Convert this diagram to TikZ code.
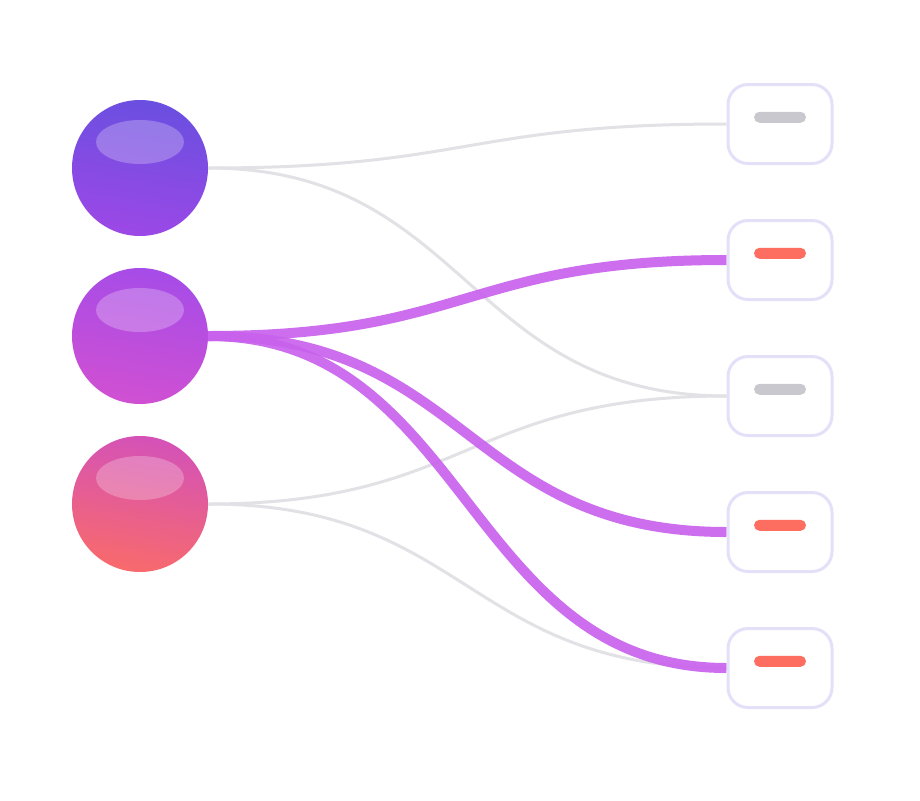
\documentclass[tikz,border=0pt]{standalone}
\usepackage{xcolor}
\usepackage{tikz}
\usetikzlibrary{positioning, shapes.misc, backgrounds}
\definecolor{srcAtop}{HTML}{6A4FE0}
\definecolor{srcAbot}{HTML}{9C48E6}
\definecolor{srcBtop}{HTML}{A64CE8}
\definecolor{srcBbot}{HTML}{D050D2}
\definecolor{srcCtop}{HTML}{D452B8}
\definecolor{srcCbot}{HTML}{F86A6C}
\definecolor{slotrim}{HTML}{E4E0FA}
\definecolor{offbar}{HTML}{C8C8CE}
\definecolor{onbar}{HTML}{FD6E60}
\definecolor{weak}{HTML}{E2E2E6}
\definecolor{strong}{HTML}{C862EC}
\tikzset{
source/.style args={#1, #2}{ circle, minimum size = 136pt, inner sep = 0pt, top color = #1, bottom color = #2, shading angle = -10,
    path picture = { \fill[white, opacity = 0.25] ([yshift = 26pt]path picture bounding box.center) ellipse (44pt and 22pt); } },
slot/.style = { rectangle, draw = slotrim, line width = 3pt, fill = white, minimum width = 104pt, minimum height = 79pt, rounded corners = 20pt },
bar/.style = { rounded rectangle, fill = #1, minimum width = 52pt, minimum height = 11pt, inner sep = 0pt },
weak link/.style = { draw = weak, line width = 3pt },
strong link/.style = { draw = strong, line width = 10pt, opacity = 0.92 },
}

\begin{document}
\begin{tikzpicture}[x = 1pt, y = -1pt]
    \useasboundingbox (0, 0) rectangle (920, 800);
    % sources
    \node[source = {srcAtop, srcAbot}] (s1) at (140, 168) {};
    \node[source = {srcBtop, srcBbot}] (s2) at (140, 336) {};
    \node[source = {srcCtop, srcCbot}] (s3) at (140, 504) {};
    % slots
    \node[slot] (t1) at (780, 124) {};
    \node[slot] (t2) at (780, 260) {};
    \node[slot] (t3) at (780, 396) {};
    \node[slot] (t4) at (780, 532) {};
    \node[slot] (t5) at (780, 668) {};
    \node[bar = offbar, above = 1pt of t1.center] (b1) {};
    \node[bar = onbar, above = 1pt of t2.center] (b2) {};
    \node[bar = offbar, above = 1pt of t3.center] (b3) {};
    \node[bar = onbar, above = 1pt of t4.center] (b4) {};
    \node[bar = onbar, above = 1pt of t5.center] (b5) {};
    % links
    \begin{scope}[on background layer]
    \fill[white] (0, 0) rectangle (920, 800);
    \path[weak link] (s1.east) .. controls +(260, 0) and +(-260, 0) .. (t1.west);
    \path[weak link] (s1.east) .. controls +(260, 0) and +(-260, 0) .. (t3.west);
    \path[weak link] (s3.east) .. controls +(260, 0) and +(-260, 0) .. (t3.west);
    \path[weak link] (s3.east) .. controls +(260, 0) and +(-260, 0) .. (t5.west);
    \path[strong link] (s2.east) .. controls +(260, 0) and +(-260, 0) .. (t2.west);
    \path[strong link] (s2.east) .. controls +(260, 0) and +(-260, 0) .. (t4.west);
    \path[strong link] (s2.east) .. controls +(260, 0) and +(-260, 0) .. (t5.west);
    \end{scope}
\end{tikzpicture}
\end{document}
